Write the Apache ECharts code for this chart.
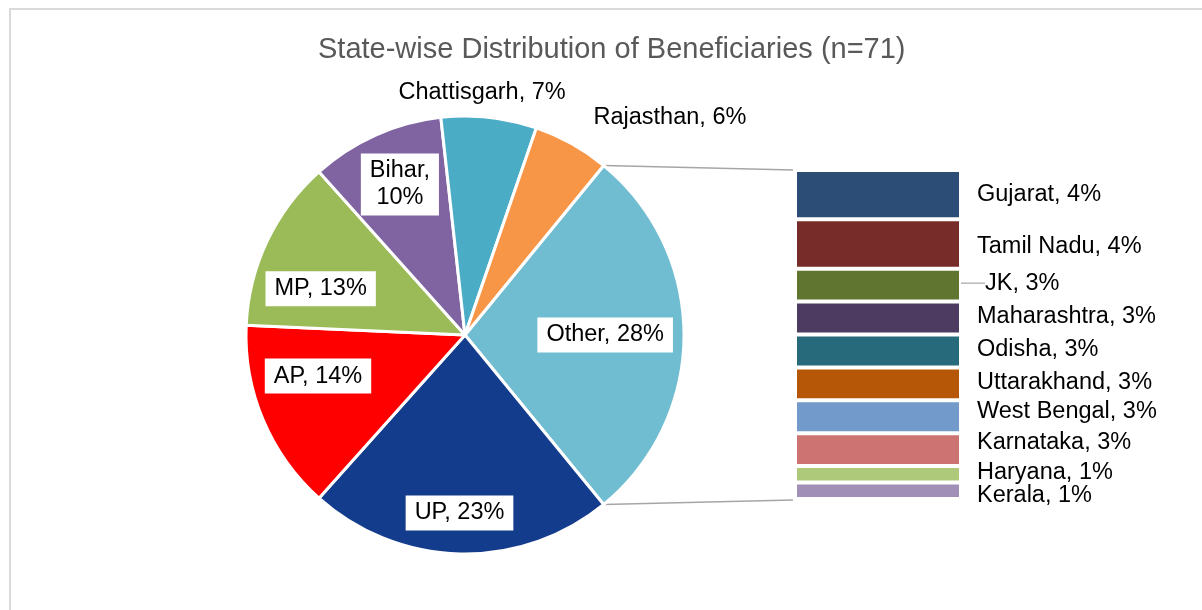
<!DOCTYPE html>
<html><head><meta charset="utf-8">
<script src="https://cdn.jsdelivr.net/npm/echarts@6/dist/echarts.min.js"></script>
<style>html,body{margin:0;padding:0;background:#fff}#c{width:1202px;height:610px}</style>
</head><body><div id="c"></div>
<script>
// ---------- data ----------
const TOTAL_N = 71;
const chartTitle = 'State-wise Distribution of Beneficiaries (n=71)';
const mainStates = ['UP', 'AP', 'MP', 'Bihar', 'Chattisgarh', 'Rajasthan'];
const mainCounts = [16, 10, 9, 7, 5, 4];
const otherLabel = 'Other';
const otherStates = ['Gujarat', 'Tamil Nadu', 'JK', 'Maharashtra', 'Odisha', 'Uttarakhand', 'West Bengal', 'Karnataka', 'Haryana', 'Kerala'];
const otherCounts = [3, 3, 2, 2, 2, 2, 2, 2, 1, 1];

// ---------- styles / layout ----------
const mainColors = {Other:'#70BCD0', UP:'#143C8C', AP:'#FF0000', MP:'#9BBB59', Bihar:'#8064A2', Chattisgarh:'#4BACC6', Rajasthan:'#F79646'};
const barColors = ['#2C4D75', '#772C2A', '#5F7530', '#4D3B62', '#276A7C', '#B65708', '#729ACA', '#CD7371', '#AFC97A', '#A18FB7'];
const FONT = "'Liberation Sans', Arial, sans-serif";
const LABEL_FS = 23.5;
const PIE_C = [465, 335], PIE_R = 219;
const GRID = {left: 795, top: 170, width: 166, height: 329};
const pieLabelPlace = {
  Other: {f: 0.64, a: 0}, UP: {f: 0.813, a: -0.5}, AP: {f: 0.697, a: -7.2}, MP: {f: 0.692, a: 7.6},
  Bihar: {f: 0.749, a: -0.7}, Chattisgarh: {f: 1.108, a: 2.3, out: true}, Rajasthan: {f: 1.363, a: -14.2, out: true}
};
const wrapNames = {Bihar: true};
const barLabelDy = {Gujarat: 0, 'Tamil Nadu': 2, JK: -2, Maharashtra: -2, Odisha: -1, Uttarakhand: -1, 'West Bengal': -5, Karnataka: -7, Haryana: -2, Kerala: 5};

// ---------- derived ----------
const otherSum = otherCounts.reduce((a, b) => a + b, 0);
const pieNames = [otherLabel].concat(mainStates);
const pieVals = [otherSum].concat(mainCounts);
const pct = v => Math.round(v / TOTAL_N * 100) + '%';
const startAngle = otherSum / TOTAL_N * 360 / 2;
const mids = [];
let acc = startAngle;
pieVals.forEach(v => { const sw = v / TOTAL_N * 360; mids.push(acc - sw / 2); acc -= sw; });

const chart = echarts.init(document.getElementById('c'));

const rad = d => d * Math.PI / 180;
const topPt = [PIE_C[0] + PIE_R * Math.cos(rad(startAngle)), PIE_C[1] - PIE_R * Math.sin(rad(startAngle))];
const botPt = [PIE_C[0] + PIE_R * Math.cos(rad(-startAngle)), PIE_C[1] - PIE_R * Math.sin(rad(-startAngle))];

const pieSeries = {
  type: 'pie',
  center: PIE_C,
  radius: [0, PIE_R],
  startAngle: startAngle,
  clockwise: true,
  avoidLabelOverlap: false,
  emphasis: {disabled: true},
  itemStyle: {borderColor: '#fff', borderWidth: 3},
  labelLine: {show: false},
  label: {
    show: true,
    position: 'inside',
    formatter: p => wrapNames[p.name] ? p.name + ',\n' + pct(p.value) : p.name + ', ' + pct(p.value),
    color: '#000',
    fontSize: LABEL_FS,
    fontFamily: FONT,
    lineHeight: 27,
    backgroundColor: '#fff',
    padding: [4, 9]
  },
  labelLayout: function (p) {
    const name = pieNames[p.dataIndex];
    const pl = pieLabelPlace[name];
    const ang = rad(mids[p.dataIndex] + pl.a);
    const d = pl.f * PIE_R;
    return {x: PIE_C[0] + d * Math.cos(ang), y: PIE_C[1] - d * Math.sin(ang), align: 'center', verticalAlign: 'middle'};
  },
  data: pieNames.map((n, i) => ({
    name: n, value: pieVals[i],
    itemStyle: {color: mainColors[n]},
    label: pieLabelPlace[n].out ? {backgroundColor: 'transparent', padding: 0} : {}
  }))
};

const barSeries = otherStates.map((n, i) => ({
  type: 'bar',
  name: n,
  stack: 'other',
  barWidth: '100%',
  emphasis: {disabled: true},
  data: [otherCounts[i]],
  itemStyle: {color: barColors[i], borderColor: '#fff', borderWidth: 2},
  label: {
    show: true, position: 'right', distance: 16,
    formatter: n + ', ' + pct(otherCounts[i]),
    color: '#000', fontSize: LABEL_FS, fontFamily: FONT
  },
  labelLayout: n === 'JK' ? {dx: 8, dy: barLabelDy[n]} : {dy: barLabelDy[n] || 0},
  labelLine: n === 'JK' ? {show: true, lineStyle: {color: '#a6a6a6', width: 1.2}} : {show: false}
}));

chart.setOption({
  animation: false,
  backgroundColor: '#fff',
  title: {
    text: chartTitle, left: 313, top: 30,
    textStyle: {color: '#595959', fontSize: 29, fontWeight: 'normal', fontFamily: FONT}
  },
  grid: {left: GRID.left, top: GRID.top, width: GRID.width, height: GRID.height},
  xAxis: {type: 'category', data: ['x'], show: false},
  yAxis: {type: 'value', min: 0, max: otherSum, inverse: true, show: false},
  graphic: [
    {type: 'rect', z: -10, shape: {x: 10, y: 9, width: 1300, height: 700}, style: {fill: 'none', stroke: '#d9d9d9', lineWidth: 2}},
    {type: 'line', z: -5, shape: {x1: topPt[0], y1: topPt[1], x2: GRID.left - 2, y2: GRID.top}, style: {stroke: '#a6a6a6', lineWidth: 1.5}},
    {type: 'line', z: -5, shape: {x1: botPt[0], y1: botPt[1], x2: GRID.left - 2, y2: GRID.top + GRID.height + 1}, style: {stroke: '#a6a6a6', lineWidth: 1.5}}
  ],
  series: [pieSeries].concat(barSeries)
});
</script>
</body></html>
